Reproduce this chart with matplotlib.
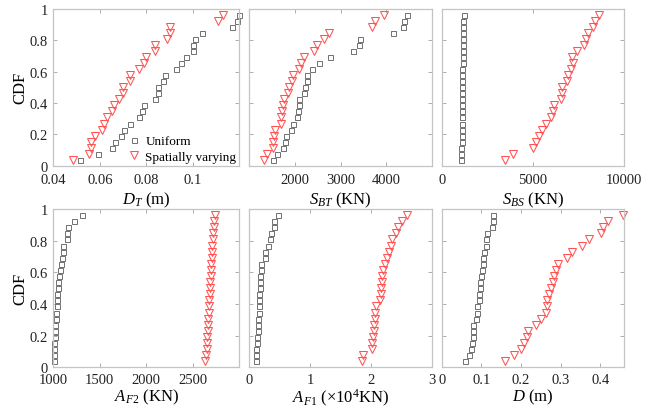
import numpy as np
import matplotlib
matplotlib.use("Agg")
import matplotlib.pyplot as plt

plt.rcParams['font.family'] = ['Liberation Serif', 'DejaVu Serif']
plt.rcParams['mathtext.fontset'] = 'custom'
plt.rcParams['mathtext.rm'] = 'Liberation Serif'
plt.rcParams['mathtext.it'] = 'Liberation Serif:italic'

n = 25
cdf = np.arange(1, n + 1) / (n + 1)

# D_T (m)
dt_uni = [0.0513, 0.0591, 0.0651, 0.0664, 0.0690, 0.0704, 0.0730, 0.0770, 0.0780, 0.0791,
          0.0838, 0.0849, 0.0849, 0.0870, 0.0881, 0.0929, 0.0951, 0.0970, 0.0999, 0.0999,
          0.1009, 0.1038, 0.1168, 0.1190, 0.1200]
dt_sv = [0.0484, 0.0552, 0.0562, 0.0562, 0.0581, 0.0610, 0.0620, 0.0632, 0.0651, 0.0661,
         0.0681, 0.0701, 0.0701, 0.0730, 0.0730, 0.0770, 0.0791, 0.0800, 0.0839, 0.0839,
         0.0890, 0.0901, 0.0901, 0.1107, 0.1128]
# S_BT (KN)
sbt_uni = [1521, 1597, 1745, 1775, 1800, 1925, 1960, 2040, 2070, 2090, 2100, 2210, 2230,
           2260, 2270, 2370, 2525, 2775, 3270, 3415, 3430, 4155, 4370, 4400, 4460]
sbt_sv = [1320, 1380, 1510, 1520, 1550, 1570, 1690, 1700, 1720, 1745, 1770, 1850, 1880,
          1930, 1960, 2100, 2130, 2200, 2410, 2480, 2640, 2740, 3680, 3750, 3950]
# S_BS (KN)
sbs_uni = [1070, 1080, 1085, 1090, 1095, 1100, 1105, 1110, 1112, 1115, 1120, 1125, 1128,
           1130, 1135, 1140, 1145, 1150, 1155, 1160, 1165, 1170, 1180, 1190, 1200]
sbs_sv = [3474, 3930, 5027, 5155, 5356, 5503, 5722, 5996, 6124, 6161, 6527, 6600, 6600,
          6856, 6947, 7112, 7185, 7166, 7441, 7824, 7916, 8044, 8282, 8410, 8647]
# A_F2 (KN)
af2_uni = [1011, 1011, 1012, 1012, 1013, 1015, 1016, 1029, 1030, 1036, 1037, 1043, 1047,
           1054, 1057, 1072, 1082, 1090, 1100, 1108, 1143, 1150, 1161, 1222, 1312]
af2_sv = [2634, 2641, 2648, 2652, 2655, 2659, 2662, 2666, 2669, 2673, 2677, 2680, 2684,
          2687, 2691, 2695, 2698, 2702, 2705, 2709, 2712, 2720, 2723, 2730, 2738]
# A_F1 (x10^4 KN)
af1_uni = [0.104, 0.104, 0.110, 0.120, 0.130, 0.137, 0.148, 0.148, 0.153, 0.159, 0.164,
           0.164, 0.170, 0.175, 0.181, 0.186, 0.192, 0.258, 0.263, 0.300, 0.340, 0.350,
           0.406, 0.406, 0.477]
af1_sv = [1.849, 1.865, 2.020, 2.020, 2.040, 2.050, 2.050, 2.070, 2.070, 2.085, 2.150,
          2.160, 2.170, 2.180, 2.190, 2.200, 2.230, 2.260, 2.300, 2.330, 2.350, 2.410,
          2.450, 2.510, 2.590]
# D (m)
d_uni = [0.0586, 0.0695, 0.0737, 0.0754, 0.0780, 0.0796, 0.0796, 0.0863, 0.0880, 0.0888,
         0.0946, 0.0946, 0.0963, 0.0963, 0.0980, 0.1020, 0.1030, 0.1050, 0.1070, 0.1130,
         0.1130, 0.1150, 0.1260, 0.1300, 0.1300]
d_sv = [0.159, 0.183, 0.201, 0.208, 0.214, 0.218, 0.239, 0.250, 0.262, 0.265, 0.266,
        0.270, 0.276, 0.281, 0.283, 0.289, 0.293, 0.316, 0.329, 0.354, 0.371, 0.402,
        0.408, 0.419, 0.458]

legend_labels = ['Uniform', 'Spatially varying']
y_ticks = [0, 0.2, 0.4, 0.6, 0.8, 1]
y_ticklabels = ['0', '0.2', '0.4', '0.6', '0.8', '1']

panels = [
    dict(u=dt_uni, s=dt_sv, xlim=(0.04, 0.12), xt=[0.04, 0.06, 0.08, 0.1],
         xtl=['0.04', '0.06', '0.08', '0.1'], xl=r'$D_T$ (m)'),
    dict(u=sbt_uni, s=sbt_sv, xlim=(1000, 5000), xt=[2000, 3000, 4000],
         xtl=['2000', '3000', '4000'], xl=r'$S_{BT}$ (KN)'),
    dict(u=sbs_uni, s=sbs_sv, xlim=(0, 10000), xt=[0, 5000, 10000],
         xtl=['0', '5000', '10000'], xl=r'$S_{BS}$ (KN)'),
    dict(u=af2_uni, s=af2_sv, xlim=(1000, 3000), xt=[1000, 1500, 2000, 2500],
         xtl=['1000', '1500', '2000', '2500'], xl=r'$A_{F2}$ (KN)'),
    dict(u=af1_uni, s=af1_sv, xlim=(0, 3), xt=[0, 1, 2, 3],
         xtl=['0', '1', '2', '3'], xl=r'$A_{F1}$ ($\times$10$^4$KN)'),
    dict(u=d_uni, s=d_sv, xlim=(0, 0.46), xt=[0, 0.1, 0.2, 0.3, 0.4],
         xtl=['0', '0.1', '0.2', '0.3', '0.4'], xl=r'$D$ (m)'),
]

W, H = 662, 410
fig = plt.figure(figsize=(W / 100, H / 100), dpi=100)

# pixel boxes (left, right, top, bottom)
boxes = [(53.3, 239.3, 10, 166.7), (249.3, 431.7, 10, 166.7), (441.7, 624, 10, 166.7),
         (53.3, 239.3, 210, 368.3), (249.3, 431.7, 210, 368.3), (441.7, 624, 210, 368.3)]

spine_c = '#c4c4c4'
gray_c = '#707070'
red_c = '#ff5252'

for i, (p, b) in enumerate(zip(panels, boxes)):
    l, r, t, bt = b
    ax = fig.add_axes([l / W, 1 - bt / H, (r - l) / W, (bt - t) / H])
    h1, = ax.plot(p['u'], cdf, linestyle='none', marker='s', markersize=3.6,
                  markerfacecolor='none', markeredgecolor=gray_c, markeredgewidth=0.7,
                  clip_on=False, label=legend_labels[0])
    h2, = ax.plot(p['s'], cdf, linestyle='none', marker='v', markersize=6.0,
                  markerfacecolor='none', markeredgecolor=red_c, markeredgewidth=0.75,
                  clip_on=False, label=legend_labels[1])
    ax.set_xlim(*p['xlim'])
    ax.set_ylim(0, 1)
    ax.set_xticks(p['xt'])
    ax.set_xticklabels(p['xtl'])
    ax.set_yticks(y_ticks)
    if i % 3 == 0:
        ax.set_yticklabels(y_ticklabels)
        ax.set_ylabel('CDF', fontsize=12, labelpad=1)
    else:
        ax.set_yticklabels([])
    ax.set_xlabel(p['xl'], fontsize=12, labelpad=3 if i < 3 else 0.5)
    for s in ax.spines.values():
        s.set_color(spine_c)
        s.set_linewidth(0.9)
    ax.tick_params(direction='in', top=True, right=True, length=3, width=0.6,
                   color='#a0a0a0', labelsize=10.5, labelcolor='#222222')
    ax.tick_params(axis='x', pad=5 if i < 3 else 4)
    ax.tick_params(axis='y', pad=4)
    if i == 0:
        ax.legend(handles=[h1, h2], loc='lower right', bbox_to_anchor=(1.02, -0.025),
                  frameon=False, fontsize=9.5,
                  handletextpad=0.2, borderaxespad=0.1, labelspacing=0.25,
                  handlelength=1.4)

fig.savefig('out.png', dpi=100)
